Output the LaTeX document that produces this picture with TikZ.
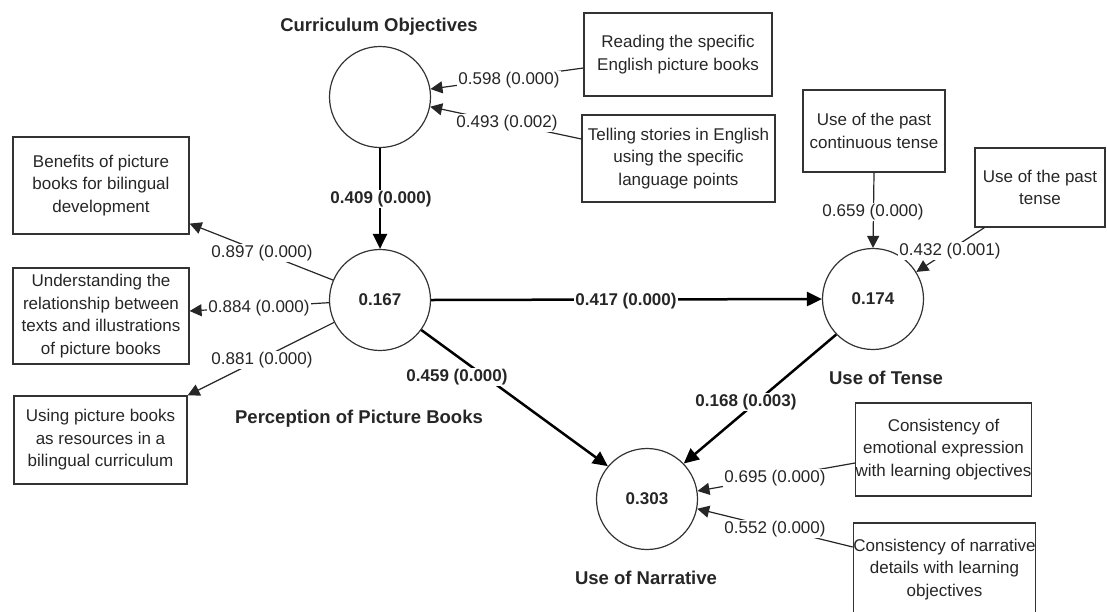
\documentclass[tikz,border=0pt]{standalone}
\usepackage{fontspec}
\setmainfont{Liberation Sans}
\usetikzlibrary{arrows.meta,calc}
\begin{document}
\begin{tikzpicture}[x=1pt,y=-1pt,
  every node/.style={text=black!85},
  indbox/.style={draw=black!80,line width=1.2pt,align=center,inner sep=0pt,
    font=\fontsize{17}{22.5}\selectfont},
  latent/.style={draw=black!80,circle,line width=1.2pt,minimum size=101pt,inner sep=0pt,
    font=\fontsize{17}{20}\selectfont\bfseries},
  title/.style={font=\fontsize{18.5}{22}\selectfont\bfseries,inner sep=0pt},
  lab/.style={fill=white,inner sep=1pt,font=\fontsize{17}{20}\selectfont},
  blab/.style={fill=white,inner sep=1pt,font=\fontsize{17}{20}\selectfont\bfseries},
  thin/.style={draw=black!85,line width=1.2pt,-{Triangle[length=12pt,width=12pt]}},
  thick/.style={draw=black,line width=2.5pt,-{Triangle[length=15pt,width=14pt]}}]
\useasboundingbox (0,0) rectangle (1107,611);
% latent variables
\node[latent] (co) at (380,97) {};
\node[latent] (ppb) at (380,300) {0.167};
\node[latent] (ut) at (873,299) {0.174};
\node[latent] (un) at (647,499) {0.303};
% titles
\node[title] (tco) at (379,27) {Curriculum Objectives};
\node[title] (tppb) at (359,419) {Perception of Picture Books};
\node[title] (tut) at (886,378) {Use of Tense};
\node[title] (tun) at (646,578) {Use of Narrative};
% indicator boxes
\node[indbox,minimum width=188pt,minimum height=83pt] (b1) at (678,54.5) {Reading the specific\\English picture books};
\node[indbox,minimum width=193pt,minimum height=87pt] (b2) at (678.5,158.5) {Telling stories in English\\using the specific\\language points};
\node[indbox,minimum width=176pt,minimum height=97pt] (l1) at (101,185.5) {Benefits of picture\\books for bilingual\\development};
\node[indbox,minimum width=176pt,minimum height=96pt] (l2) at (101,316) {Understanding the\\relationship between\\texts and illustrations\\of picture books};
\node[indbox,minimum width=173pt,minimum height=88pt] (l3) at (100.5,440) {Using picture books\\as resources in a\\bilingual curriculum};
\node[indbox,minimum width=142pt,minimum height=82pt] (t1) at (874,131) {Use of the past\\continuous tense};
\node[indbox,minimum width=130pt,minimum height=79pt] (t2) at (1040,187.5) {Use of the past\\tense};
\node[indbox,minimum width=175pt,minimum height=93pt] (n1) at (943.5,449.5) {Consistency of\\emotional expression\\with learning objectives};
\node[indbox,minimum width=177pt,minimum height=93pt] (n2) at (944.5,569.5) {Consistency of narrative\\details with learning\\objectives};
% structural paths
\draw[thick] (co.south) -- (ppb.north);
\draw[thick] (ppb.east) -- (ut.west);
\draw[thick] (ppb.-36) -- (un.140);
\draw[thick] (ut.224) -- (un.44);
% measurement paths
\draw[thin] ([yshift=-13.5pt]b1.west) -- (co.9);
\draw[thin] ([yshift=19.5pt]b2.west) -- (co.-11);
\draw[thin] (ppb.157) -- ([yshift=11pt]l1.south east);
\draw[thin] (ppb.183) -- ([yshift=5pt]l2.east);
\draw[thin] (ppb.206) -- (l3.north east);
\draw[thin] (t1.south) -- (ut.north);
\draw[thin] ([xshift=10pt]t2.south west) -- (ut.32);
\draw[thin] ([yshift=-13.5pt]n1.west) -- (un.9);
\draw[thin] ([yshift=22.5pt]n2.west) -- (un.-11);
% labels
\node[blab] (e1) at (381,199) {0.409 (0.000)};
\node[blab] (e2) at (626,301) {0.417 (0.000)};
\node[blab] (e3) at (457,377) {0.459 (0.000)};
\node[blab] (e4) at (746,402) {0.168 (0.003)};
\node[lab] (m1) at (509,80) {0.598 (0.000)};
\node[lab] (m2) at (507,123) {0.493 (0.002)};
\node[lab] (m3) at (262,253) {0.897 (0.000)};
\node[lab] (m4) at (259,308) {0.884 (0.000)};
\node[lab] (m5) at (262,360) {0.881 (0.000)};
\node[lab] (m6) at (873,212) {0.659 (0.000)};
\node[lab] (m7) at (950,251) {0.432 (0.001)};
\node[lab] (m8) at (775,478) {0.695 (0.000)};
\node[lab] (m9) at (775,529) {0.552 (0.000)};
\end{tikzpicture}
\end{document}
